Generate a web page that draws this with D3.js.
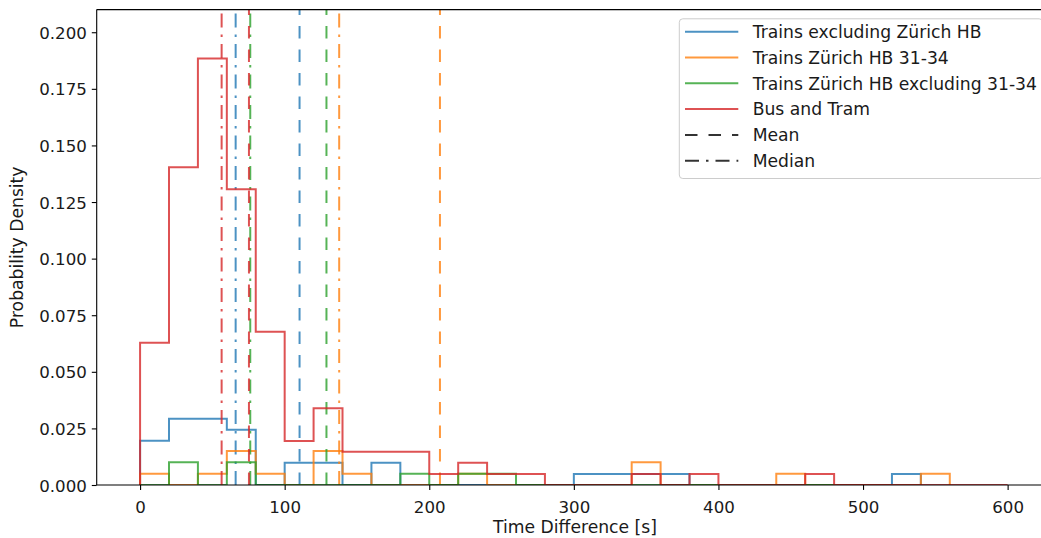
<!DOCTYPE html>
<html>
<head>
<meta charset="utf-8">
<script src="https://cdn.jsdelivr.net/npm/d3@7"></script>
<style>
  html, body { margin: 0; padding: 0; background: #ffffff; }
  svg { display: block; font-family: "DejaVu Sans", sans-serif; }
</style>
</head>
<body>
<svg id="chart" width="1041" height="538"></svg>
<script>
// ---------------- data ----------------
const binEdges = [0, 20, 40, 60, 80, 100, 120, 140, 160, 180, 200, 220, 240, 260, 280, 300,
                  320, 340, 360, 380, 400, 420, 440, 460, 480, 500, 520, 540, 560, 580, 600];

const seriesNames = ["Trains excluding Zürich HB", "Trains Zürich HB 31-34",
                     "Trains Zürich HB excluding 31-34", "Bus and Tram"];
const seriesColors = ["#1f77b4", "#ff7f0e", "#2ca02c", "#d62728"];

// densities per 20 s bin, starting at 0 s
const trainsExclHB = [0.0195, 0.0293, 0.0293, 0.0244, 0, 0.0098, 0.0098, 0, 0.0098, 0,
                      0, 0, 0, 0, 0, 0.0049, 0.0049, 0.0049, 0.0049, 0,
                      0, 0, 0, 0, 0, 0, 0.0049];
const trainsHB3134 = [0.0050, 0, 0.0050, 0.0150, 0.0050, 0, 0.0150, 0.0050, 0, 0,
                      0, 0.0050, 0, 0, 0, 0, 0, 0.0100, 0, 0,
                      0, 0, 0.0050, 0, 0, 0, 0, 0.0050];
const trainsHBExcl3134 = [0, 0.0100, 0, 0.0100, 0, 0, 0, 0, 0, 0.0050,
                          0, 0.0050, 0.0050, 0, 0, 0, 0, 0, 0, 0,
                          0, 0, 0, 0];
const busAndTram = [0.0628, 0.1404, 0.1884, 0.1306, 0.0677, 0.0194, 0.0339, 0.0147, 0.0147, 0.0147,
                    0.0049, 0.0098, 0.0049, 0.0049, 0, 0, 0, 0.0049, 0, 0.0049,
                    0, 0, 0, 0.0049, 0, 0, 0, 0, 0, 0];

const meanValues   = [110.3, 207.4, 128.9, 75.3];
const medianValues = [66.1, 137.7, 76.2, 56.4];

const xTicks = [0, 100, 200, 300, 400, 500, 600];
const yTicks = [0, 0.025, 0.05, 0.075, 0.1, 0.125, 0.15, 0.175, 0.2];

const allSeries = [trainsExclHB, trainsHB3134, trainsHBExcl3134, busAndTram];

// ---------------- layout ----------------
const svg = d3.select("#chart");
const plot = { left: 96.7, right: 1051, top: 9.6, bottom: 485 };
const FONT = 16.67;
const LABEL_FONT = 17.2;
const ALPHA = 0.8;
const DASH = "12.5,11";
const DASHDOT = "14,7,2.5,7";

const x = d3.scaleLinear().domain([-30, 630]).range([plot.left, plot.right]);
const y = d3.scaleLinear().domain([0, 0.21]).range([plot.bottom, plot.top]);

svg.append("defs").append("clipPath").attr("id", "clip")
  .append("rect")
  .attr("x", plot.left).attr("y", plot.top)
  .attr("width", plot.right - plot.left).attr("height", plot.bottom - plot.top);

const data = svg.append("g").attr("clip-path", "url(#clip)");

// step path like matplotlib histtype='step'
function stepPoints(values) {
  const pts = [[binEdges[0], 0]];
  values.forEach((v, i) => {
    pts.push([binEdges[i], v]);
    pts.push([binEdges[i + 1], v]);
  });
  pts.push([binEdges[values.length], 0]);
  return pts;
}
const line = d3.line().x(d => x(d[0])).y(d => y(d[1]));

allSeries.forEach((vals, i) => {
  data.append("path")
    .attr("d", line(stepPoints(vals)))
    .attr("fill", "none")
    .attr("stroke", seriesColors[i])
    .attr("stroke-opacity", ALPHA)
    .attr("stroke-width", 2)
    .attr("stroke-linejoin", "miter");

  data.append("line")
    .attr("x1", x(meanValues[i])).attr("x2", x(meanValues[i]))
    .attr("y1", plot.bottom).attr("y2", plot.top)
    .attr("stroke", seriesColors[i]).attr("stroke-opacity", ALPHA)
    .attr("stroke-width", 2).attr("stroke-dasharray", DASH);

  data.append("line")
    .attr("x1", x(medianValues[i])).attr("x2", x(medianValues[i]))
    .attr("y1", plot.bottom).attr("y2", plot.top)
    .attr("stroke", seriesColors[i]).attr("stroke-opacity", ALPHA)
    .attr("stroke-width", 2).attr("stroke-dasharray", DASHDOT);
});

// ---------------- axes ----------------
const xAxis = d3.axisBottom(x).tickValues(xTicks).tickSize(4.9).tickPadding(4.9).tickFormat(d3.format("d"));
const yAxis = d3.axisLeft(y).tickValues(yTicks).tickSize(4.9).tickPadding(4.9).tickFormat(d3.format(".3f"));

const gx = svg.append("g").attr("transform", `translate(0,${plot.bottom})`).call(xAxis);
const gy = svg.append("g").attr("transform", `translate(${plot.left},0)`).call(yAxis);

[gx, gy].forEach(g => {
  g.select(".domain").remove();
  g.selectAll(".tick line").attr("stroke", "#000").attr("stroke-width", 1.1);
  g.selectAll(".tick text").attr("fill", "#1a1a1a").style("font-size", FONT + "px")
    .style("font-family", "DejaVu Sans");
});
gx.selectAll(".tick text").attr("dy", null).attr("y", 27.5);
gy.selectAll(".tick text").attr("dy", "0.365em");

// spines
const sp = svg.append("g").attr("stroke", "#000").attr("stroke-width", 1.1).attr("fill", "none");
sp.append("line").attr("x1", plot.left).attr("x2", plot.left).attr("y1", plot.top).attr("y2", plot.bottom);
sp.append("line").attr("x1", plot.right).attr("x2", plot.right).attr("y1", plot.top).attr("y2", plot.bottom);
sp.append("line").attr("x1", plot.left).attr("x2", plot.right).attr("y1", plot.top).attr("y2", plot.top);
sp.append("line").attr("x1", plot.left).attr("x2", plot.right).attr("y1", plot.bottom).attr("y2", plot.bottom);

// axis labels
svg.append("text")
  .attr("x", 575).attr("y", 532.5)
  .attr("text-anchor", "middle").attr("fill", "#1a1a1a")
  .style("font-size", LABEL_FONT + "px")
  .text("Time Difference [s]");

svg.append("text")
  .attr("transform", `translate(22.5,${(plot.top + plot.bottom) / 2}) rotate(-90)`)
  .attr("text-anchor", "middle").attr("fill", "#1a1a1a")
  .style("font-size", LABEL_FONT + "px")
  .text("Probability Density");

// ---------------- legend ----------------
const legend = svg.append("g");
legend.append("rect")
  .attr("x", 679.3).attr("y", 18.8).attr("width", 1042.7 - 679.3).attr("height", 178.5 - 18.8)
  .attr("rx", 3.5).attr("ry", 3.5)
  .attr("fill", "#ffffff").attr("fill-opacity", 0.8)
  .attr("stroke", "#cccccc").attr("stroke-width", 1);

const legendItems = seriesNames.map((n, i) => ({ label: n, color: seriesColors[i], dash: null }))
  .concat([{ label: "Mean", color: "#000", dash: DASH },
           { label: "Median", color: "#000", dash: DASHDOT }]);

legendItems.forEach((it, i) => {
  const cy = 31.7 + i * 25.8;
  legend.append("line")
    .attr("x1", 685).attr("x2", 738.3).attr("y1", cy).attr("y2", cy)
    .attr("stroke", it.color).attr("stroke-opacity", ALPHA).attr("stroke-width", 2)
    .attr("stroke-dasharray", it.dash);
  legend.append("text")
    .attr("x", 752.7).attr("y", cy).attr("dy", "0.365em")
    .attr("fill", "#1a1a1a").style("font-size", LABEL_FONT + "px")
    .text(it.label);
});
</script>
</body>
</html>
